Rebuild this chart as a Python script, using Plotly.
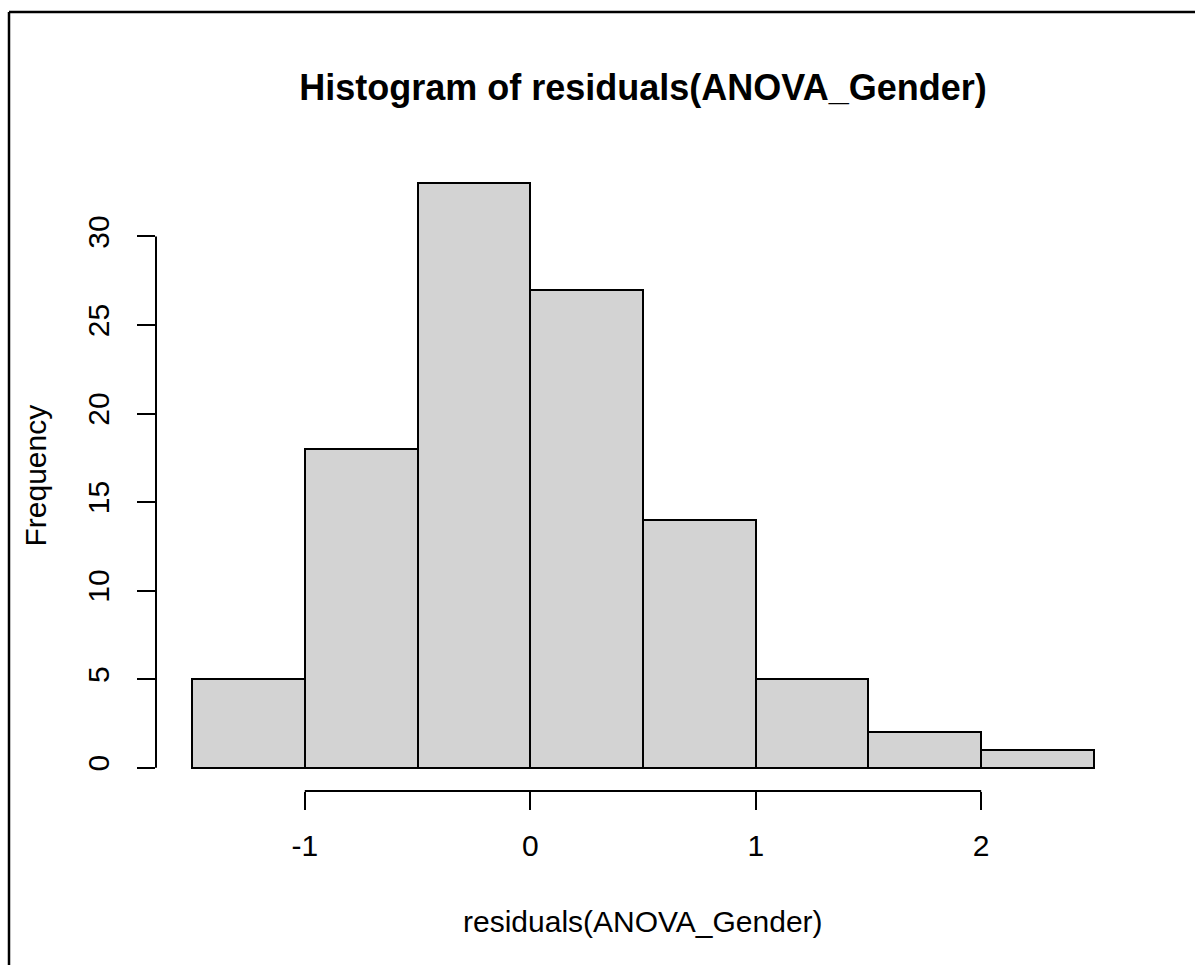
import plotly.graph_objects as go

# Histogram of model residuals: bin edges and counts per bin
bin_edges = [-1.5, -1.0, -0.5, 0.0, 0.5, 1.0, 1.5, 2.0, 2.5]
counts = [5, 18, 33, 27, 14, 5, 2, 1]

x_ticks = [-1, 0, 1, 2]
y_ticks = [0, 5, 10, 15, 20, 25, 30]

title_text = "Histogram of residuals(ANOVA_Gender)"
x_label = "residuals(ANOVA_Gender)"
y_label = "Frequency"

centers = [(a + b) / 2 for a, b in zip(bin_edges[:-1], bin_edges[1:])]
widths = [b - a for a, b in zip(bin_edges[:-1], bin_edges[1:])]

# 4% padding on each side, like R's default axis style
x_pad = (bin_edges[-1] - bin_edges[0]) * 0.04
y_pad = max(counts) * 0.04
x_range = [bin_edges[0] - x_pad, bin_edges[-1] + x_pad]
y_range = [-y_pad, max(counts) + y_pad]

FONT = "Liberation Sans, Arial, Helvetica, sans-serif"
W, H = 1195, 965
ML, MR, MT, MB = 156, 65, 160, 174

fig = go.Figure(
    go.Bar(
        x=centers,
        y=counts,
        width=widths,
        marker=dict(color="#D3D3D3", line=dict(color="black", width=2)),
        hoverinfo="x+y",
    )
)

fig.update_layout(
    width=W,
    height=H,
    margin=dict(l=ML, r=MR, t=MT, b=MB, pad=0),
    paper_bgcolor="white",
    plot_bgcolor="white",
    showlegend=False,
    font=dict(family=FONT, color="black", size=30),
    title=dict(
        text="<b>" + title_text + "</b>",
        font=dict(family=FONT, size=36, color="black"),
        x=(ML + (W - ML - MR) / 2) / W,
        xanchor="center",
        y=1 - 100 / H,
        yanchor="bottom",
    ),
    bargap=0,
)

fig.update_xaxes(
    range=x_range,
    tickvals=x_ticks,
    ticktext=[str(v) for v in x_ticks],
    ticks="outside",
    ticklen=18,
    tickwidth=2,
    tickcolor="black",
    showline=False,
    showgrid=False,
    zeroline=False,
    tickfont=dict(family=FONT, size=30, color="black"),
    ticklabelstandoff=10,
)
fig.update_yaxes(
    range=y_range,
    tickvals=y_ticks,
    ticktext=[str(v) for v in y_ticks],
    ticks="outside",
    ticklen=18,
    tickwidth=2,
    tickcolor="black",
    tickangle=-90,
    showline=False,
    showgrid=False,
    zeroline=False,
    tickfont=dict(family=FONT, size=30, color="black"),
    ticklabelstandoff=16,
)

# Axis lines spanning only the first to last tick
fig.add_shape(type="line", xref="x", yref="paper",
              x0=x_ticks[0], x1=x_ticks[-1], y0=0, y1=0,
              line=dict(color="black", width=2))
fig.add_shape(type="line", xref="paper", yref="y",
              x0=0, x1=0, y0=y_ticks[0], y1=y_ticks[-1],
              line=dict(color="black", width=2))

# Axis titles
fig.add_annotation(text=x_label, xref="paper", yref="paper",
                   x=0.5, y=0, yanchor="top", yshift=-112,
                   showarrow=False, font=dict(family=FONT, size=30, color="black"))
fig.add_annotation(text=y_label, xref="paper", yref="paper",
                   x=0, y=0.5, xanchor="center", xshift=-121, textangle=-90,
                   showarrow=False, font=dict(family=FONT, size=30, color="black"))

# Frame along the left and top edges of the canvas
pw, ph = W - ML - MR, H - MT - MB
fx = (9 - ML) / pw
fy = (H - MB - 12) / ph
fig.add_shape(type="line", xref="paper", yref="paper",
              x0=fx, x1=fx, y0=fy, y1=(H - MB - H - 2) / ph,
              line=dict(color="black", width=2.5))
fig.add_shape(type="line", xref="paper", yref="paper",
              x0=fx, x1=(W + 2 - ML) / pw, y0=fy, y1=fy,
              line=dict(color="black", width=2.5))

fig.write_html("out.html")
